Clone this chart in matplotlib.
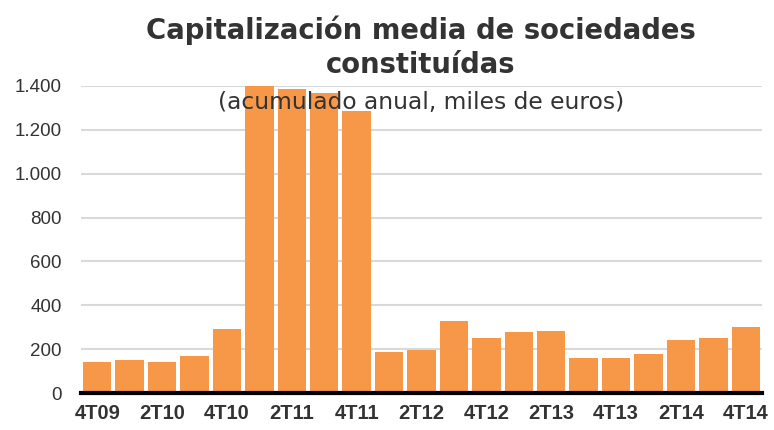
import matplotlib
matplotlib.use("Agg")
import matplotlib.pyplot as plt
import numpy as np

# Datos: capitalización media (miles de euros, acumulado anual)
trimestres = ["4T09", "1T10", "2T10", "3T10", "4T10", "1T11", "2T11", "3T11", "4T11",
              "1T12", "2T12", "3T12", "4T12", "1T13", "2T13", "3T13", "4T13",
              "1T14", "2T14", "3T14", "4T14"]
capitalizacion = [140, 150, 140, 168, 294, 1450, 1385, 1367, 1286,
                  185, 195, 330, 250, 277, 285, 159, 159, 177, 241, 250, 303]
yticks = [0, 200, 400, 600, 800, 1000, 1200, 1400]
ytick_labels = ["0", "200", "400", "600", "800", "1.000", "1.200", "1.400"]

plt.rcParams['font.family'] = ['Liberation Sans', 'DejaVu Sans']
text_color = '#333333'

fig = plt.figure(figsize=(7.74, 4.30), dpi=100)
ax = fig.add_axes([81 / 774, 1 - 393 / 430, (762 - 81) / 774, (393 - 86) / 430])

x = np.arange(len(trimestres))
ax.bar(x, capitalizacion, width=0.88, color='#F79748', zorder=2)

ax.set_ylim(0, 1400)
ax.set_xlim(-0.5, len(trimestres) - 0.5)
ax.set_yticks(yticks)
ax.set_yticklabels(ytick_labels, fontsize=13.5, color=text_color)
ax.set_xticks(x[::2])
ax.set_xticklabels(trimestres[::2], fontsize=14.5, fontweight='bold', color=text_color)
ax.tick_params(axis='both', length=0)
ax.tick_params(axis='y', pad=14)
ax.tick_params(axis='x', pad=8)

ax.grid(True, axis='y', color='#d9d9d9', linewidth=1.5, zorder=0)
for side in ['top', 'right', 'left']:
    ax.spines[side].set_visible(False)
ax.spines['bottom'].set_linewidth(3)
ax.spines['bottom'].set_color('black')
ax.spines['bottom'].set_zorder(3)

# Título y subtítulo
fig.text(421 / 774, 1 - 30 / 430, "Capitalización media de sociedades",
         ha='center', va='center', fontsize=19.8, fontweight='bold', color=text_color,
         family='DejaVu Sans')
fig.text(421 / 774, 1 - 65 / 430, "constituídas",
         ha='center', va='center', fontsize=19.8, fontweight='bold', color=text_color,
         family='DejaVu Sans')
fig.text(421 / 774, 1 - 102 / 430, "(acumulado anual, miles de euros)",
         ha='center', va='center', fontsize=16.8, color=text_color, zorder=5,
         family='DejaVu Sans')

fig.savefig("out.png", dpi=100)
